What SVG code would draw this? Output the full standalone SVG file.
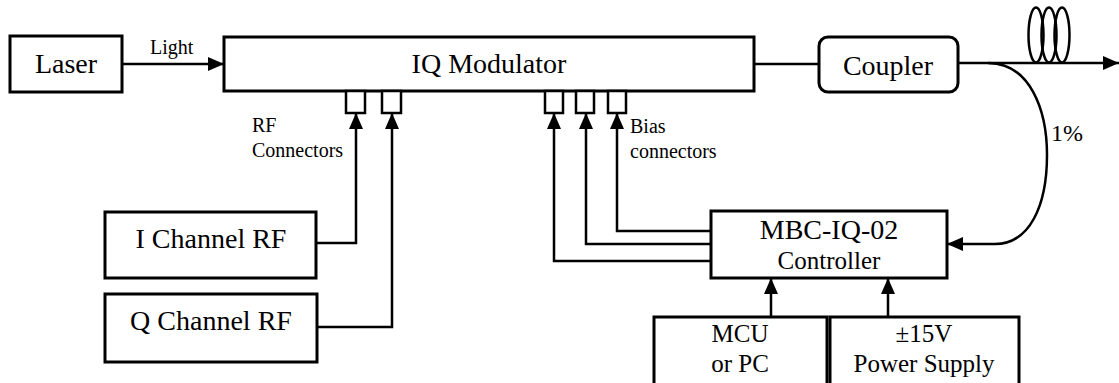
<svg xmlns="http://www.w3.org/2000/svg" width="1119" height="383" viewBox="0 0 1119 383">
<style>
.box{fill:#fff;stroke:#000;stroke-width:3}
.conn{fill:#fff;stroke:#000;stroke-width:2.5}
.ln{fill:none;stroke:#000;stroke-width:2.5}
.c{text-anchor:middle}
</style>
<defs>
<marker id="ah" viewBox="0 0 16 14" refX="16" refY="7" markerWidth="16" markerHeight="14" markerUnits="userSpaceOnUse" orient="auto">
<path d="M0,0 L16,7 L0,14 Z" fill="#000"/>
</marker>
</defs>
<rect width="1119" height="383" fill="#fff"/>
<g id="connectors">
<line class="ln" x1="122" y1="64" x2="224" y2="64" marker-end="url(#ah)"/>
<line class="ln" x1="754" y1="64" x2="819" y2="64"/>
<line class="ln" x1="958" y1="63" x2="1119" y2="63" marker-end="url(#ah)"/>
<path class="ln" d="M988 63 C1030 63 1047 110 1047 155 C1047 205 1030 244 995 244 L947 244" marker-end="url(#ah)"/>
<polyline class="ln" points="316,243 356,243 356,113" marker-end="url(#ah)"/>
<polyline class="ln" points="317,327 392,327 392,113" marker-end="url(#ah)"/>
<polyline class="ln" points="711,261 554,261 554,113" marker-end="url(#ah)"/>
<polyline class="ln" points="711,244 586,244 586,113" marker-end="url(#ah)"/>
<polyline class="ln" points="711,231 617,231 617,113" marker-end="url(#ah)"/>
<line class="ln" x1="771" y1="317" x2="771" y2="278" marker-end="url(#ah)"/>
<line class="ln" x1="888" y1="317" x2="888" y2="278" marker-end="url(#ah)"/>
</g>
<g id="fiber-coil" fill="none" stroke="#000" stroke-width="2.5">
<ellipse cx="1036" cy="35" rx="7.5" ry="27.5"/>
<ellipse cx="1049" cy="35" rx="7.5" ry="27.5"/>
<ellipse cx="1062" cy="35" rx="7.5" ry="27.5"/>
</g>
<g style="font-family:'Times New Roman','Liberation Serif','Noto Serif','DejaVu Serif',serif" fill="#000">
<g id="laser">
<rect class="box" x="10" y="36" width="112" height="56"/>
<text class="c" x="66" y="73" font-size="28">Laser</text>
</g>
<text x="150" y="54" font-size="20">Light</text>
<g id="iq-modulator">
<rect class="box" x="224" y="37" width="530" height="54"/>
<text class="c" x="489" y="73" font-size="28">IQ Modulator</text>
<rect class="conn" x="346" y="91" width="19" height="22"/>
<rect class="conn" x="382" y="91" width="19" height="22"/>
<rect class="conn" x="545" y="91" width="18" height="22"/>
<rect class="conn" x="576" y="91" width="18" height="22"/>
<rect class="conn" x="608" y="91" width="18" height="22"/>
</g>
<text x="252" y="132" font-size="20">RF</text>
<text x="252" y="157" font-size="20">Connectors</text>
<text x="630" y="133" font-size="20">Bias</text>
<text x="630" y="158" font-size="20">connectors</text>
<g id="coupler">
<rect class="box" x="819" y="37" width="139" height="55" rx="9"/>
<text class="c" x="888" y="75" font-size="28">Coupler</text>
</g>
<text x="1051" y="141" font-size="24">1%</text>
<g id="i-channel">
<rect class="box" x="105" y="212" width="211" height="66"/>
<text class="c" x="211" y="248" font-size="28">I Channel RF</text>
</g>
<g id="q-channel">
<rect class="box" x="105" y="294" width="212" height="68"/>
<text class="c" x="211" y="330" font-size="28">Q Channel RF</text>
</g>
<g id="controller">
<rect class="box" x="711" y="211" width="236" height="67"/>
<text class="c" x="829" y="239" font-size="28">MBC-IQ-02</text>
<text class="c" x="829" y="269" font-size="25">Controller</text>
</g>
<g id="mcu">
<rect class="box" x="654" y="317" width="173" height="80"/>
<text class="c" x="740" y="342" font-size="25">MCU</text>
<text class="c" x="740" y="372" font-size="25">or PC</text>
</g>
<g id="power-supply">
<rect class="box" x="830" y="317" width="189" height="80"/>
<text class="c" x="924" y="342" font-size="25">±15V</text>
<text class="c" x="924" y="372" font-size="25">Power Supply</text>
</g>
</g>
</svg>
